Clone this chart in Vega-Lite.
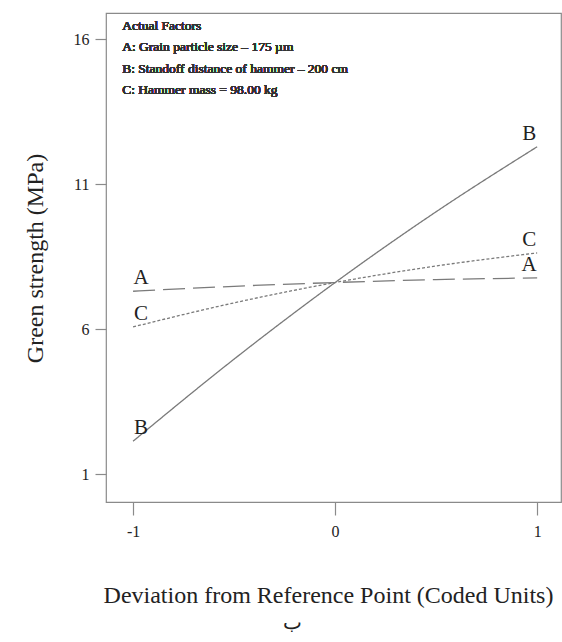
{
  "$schema": "https://vega.github.io/schema/vega-lite/v6.json",
  "width": 455,
  "height": 489,
  "autosize": {"type": "none"},
  "padding": {"left": 106, "top": 13, "right": 1, "bottom": 140},
  "background": "white",
  "config": {
    "font": "Liberation Serif",
    "view": {"stroke": "#8a8a8a", "strokeWidth": 1.2},
    "text": {"font": "Liberation Serif", "fontWeight": "normal"},
    "axis": {
      "grid": false,
      "domain": false,
      "tickColor": "#8a8a8a",
      "tickWidth": 1.2,
      "labelFont": "Liberation Serif",
      "labelColor": "#222",
      "labelFontSize": 16,
      "titleFont": "Liberation Serif",
      "titleColor": "#222",
      "titleFontWeight": "normal"
    }
  },
  "title": {
    "text": "ب",
    "orient": "bottom",
    "anchor": "middle",
    "frame": "group",
    "fontSize": 20,
    "fontWeight": "normal",
    "font": "Noto Sans",
    "color": "#222",
    "dx": -41,
    "offset": 6
  },
  "data": {
    "values": [
      {"series": "A", "x": -1, "y": 7.31},
      {"series": "A", "x": -0.5, "y": 7.48},
      {"series": "A", "x": 0, "y": 7.61},
      {"series": "A", "x": 0.5, "y": 7.71},
      {"series": "A", "x": 1, "y": 7.77},
      {"series": "B", "x": -1, "y": 2.14},
      {"series": "B", "x": -0.5, "y": 4.97},
      {"series": "B", "x": 0, "y": 7.61},
      {"series": "B", "x": 0.5, "y": 10.05},
      {"series": "B", "x": 1, "y": 12.29},
      {"series": "C", "x": -1, "y": 6.08},
      {"series": "C", "x": -0.5, "y": 6.91},
      {"series": "C", "x": 0, "y": 7.61},
      {"series": "C", "x": 0.5, "y": 8.18},
      {"series": "C", "x": 1, "y": 8.63}
    ]
  },
  "encoding": {
    "x": {
      "field": "x",
      "type": "quantitative",
      "scale": {"domain": [-1.134, 1.118], "nice": false, "zero": false},
      "axis": {
        "values": [-1, 0, 1],
        "labelExpr": "datum.value + ''",
        "labelFont": "Liberation Serif",
        "tickSize": 13,
        "labelPadding": 8,
        "title": "Deviation from Reference Point (Coded Units)",
        "titleFont": "Liberation Serif",
        "titleFontSize": 24,
        "titleBaseline": "middle",
        "titleAlign": "center",
        "titleX": 222,
        "titleY": 93
      }
    },
    "y": {
      "field": "y",
      "type": "quantitative",
      "scale": {"domain": [0.045, 16.9], "nice": false, "zero": false},
      "axis": {
        "values": [1, 6, 11, 16],
        "labelExpr": "datum.value + ''",
        "labelFont": "Liberation Serif",
        "tickSize": 11,
        "labelPadding": 6,
        "title": "Green strength (MPa)",
        "titleFont": "Liberation Serif",
        "titleFontSize": 24,
        "titleAngle": -90,
        "titleBaseline": "middle",
        "titleAlign": "center",
        "titleX": -71,
        "titleY": 245
      }
    }
  },
  "layer": [
    {
      "mark": {"type": "line", "interpolate": "monotone", "color": "#7a7a7a", "strokeWidth": 1.3},
      "encoding": {
        "detail": {"field": "series"},
        "strokeDash": {
          "field": "series",
          "type": "nominal",
          "scale": {"domain": ["A", "B", "C"], "range": [[22, 8], [1, 0], [3, 2]]},
          "legend": null
        }
      }
    },
    {
      "transform": [{"filter": "datum.x == -1"}],
      "mark": {"type": "text", "font": "Liberation Serif", "fontSize": 21, "color": "#222", "dx": 8, "dy": -13, "baseline": "middle", "align": "center"},
      "encoding": {"text": {"field": "series"}}
    },
    {
      "transform": [{"filter": "datum.x == 1"}],
      "mark": {"type": "text", "font": "Liberation Serif", "fontSize": 21, "color": "#222", "dx": -8, "dy": -13, "baseline": "middle", "align": "center"},
      "encoding": {"text": {"field": "series"}}
    },
    {
      "mark": {"type": "text", "font": "Liberation Serif", "fontWeight": "normal", "fontSize": 13.5, "color": "#333", "align": "left", "baseline": "alphabetic", "lineHeight": 21.5},
      "encoding": {
        "x": {"datum": -1.054},
        "y": {"datum": 16.33},
        "text": {"value": ["Actual Factors", "A: Grain particle size – 175 µm", "B: Standoff distance of hammer – 200 cm", "C: Hammer mass = 98.00 kg"]}
      }
    }
  ]
}
